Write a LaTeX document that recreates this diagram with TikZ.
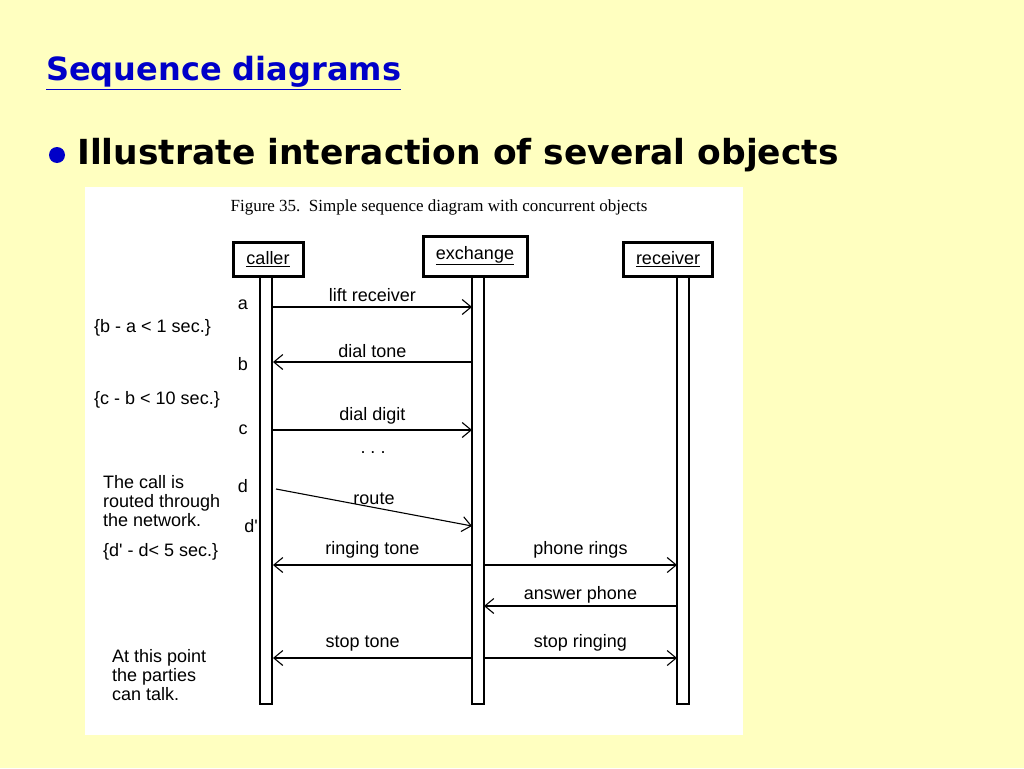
\documentclass[tikz,border=0pt]{standalone}
\usepackage{fontspec}
\setmainfont{Liberation Sans}
\newfontfamily\figfont{Liberation Serif}
\newfontfamily\slidefont{DejaVu Sans}
\usetikzlibrary{arrows.meta, positioning, calc}
\definecolor{SlideYellow}{RGB}{255, 255, 192}
\definecolor{SlideBlue}{RGB}{0, 0, 200}
\newcommand{\sq}{\textquotesingle}
\tikzset{
  objbox/.style={draw, line width=3pt, fill=white, minimum height=34pt, inner sep=2pt, font=\fontsize{18}{20}\selectfont},
  lifeline/.style={draw, line width=1.4pt, fill=white},
  msg/.style={line width=1.1pt, -{Straight Barb[length=9pt, width=15pt]}},
  lbl/.style={font=\fontsize{18}{20}\selectfont, inner sep=1pt},
  note/.style={font=\fontsize{18}{20}\selectfont, align=left, anchor=north west, inner sep=0pt}
}
\begin{document}
\begin{tikzpicture}[x=1pt, y=-1pt]
  \fill[SlideYellow] (0,0) rectangle (1024,768);
  \useasboundingbox (0,0) rectangle (1024,768);
  % slide heading
  \node[anchor=west, text=SlideBlue, font=\slidefont\bfseries\fontsize{32}{36}\selectfont, inner sep=0pt] (title) at (46,73) {\underline{Sequence diagrams}};
  \fill[SlideBlue] (57,155) circle (8);
  \node[anchor=west, font=\slidefont\bfseries\fontsize{34.5}{38}\selectfont, inner sep=0pt] (point) at (77,155) {Illustrate interaction of several objects};
  % figure panel
  \fill[white] (85,187) rectangle (743,735);
  \node[font=\figfont\fontsize{17}{19}\selectfont] (cap) at (439,207) {Figure 35.\ \ Simple sequence diagram with concurrent objects};
  % objects and lifelines
  \node[objbox, minimum width=70pt] (caller) at (268,259) {\underline{caller}};
  \node[objbox, minimum width=104pt, minimum height=40pt] (exch) at (475,256) {\raisebox{6pt}{\underline{exchange}}};
  \node[objbox, minimum width=89pt] (recv) at (668,259) {\underline{receiver}};
  \draw[lifeline] (260,277) rectangle (272,704);
  \draw[lifeline] (472,277) rectangle (484,704);
  \draw[lifeline] (677,277) rectangle (689,704);
  % message ends
  \foreach \n/\y in {a/307, b/362, c/430, d/489, dd/526, e/565, f/606, g/658} {
    \coordinate (cl\n) at (273,\y);
    \coordinate (xl\n) at (472,\y);
    \coordinate (xr\n) at (484,\y);
    \coordinate (rc\n) at (677,\y);
  }
  \draw[msg] (cla) -- (xla) node[lbl, midway, above=4pt] {lift receiver};
  \draw[msg] (xlb) -- (clb) node[lbl, midway, above=3pt] {dial tone};
  \draw[msg] (clc) -- (xlc) node[lbl, midway, above=4pt] {dial digit};
  \node[lbl] (dots) at (373,453) {.\ .\ .};
  \draw[msg] ([xshift=3pt]cld) -- (xldd) node[lbl, pos=0.5, above=1pt] {route};
  \draw[msg] (xle) -- (cle) node[lbl, midway, above=5pt] {ringing tone};
  \draw[msg] (xre) -- (rce) node[lbl, midway, above=5pt] {phone rings};
  \draw[msg] (rcf) -- (xrf) node[lbl, midway, above=1pt] {answer phone};
  \draw[msg] (xlg) -- (clg) node[lbl, pos=0.55, above=5pt] {stop tone};
  \draw[msg] (xrg) -- (rcg) node[lbl, midway, above=5pt] {stop ringing};
  % time marks and notes
  \node[lbl] (ta) at (243,305) {a};
  \node[lbl] (tb) at (243,364) {b};
  \node[lbl] (tc) at (243,430) {c};
  \node[lbl] (td) at (243,486) {d};
  \node[lbl] (tdd) at (251,526) {d\sq};
  \node[note] (ba) at (94,319) {\{b - a < 1 sec.\}};
  \node[note] (cb) at (94,391) {\{c - b < 10 sec.\}};
  \node[note, font=\fontsize{18}{19}\selectfont] (route) at (103,475) {The call is\\routed through\\the network.};
  \node[note] (ddd) at (103,543) {\{d\sq\ - d< 5 sec.\}};
  \node[note, font=\fontsize{18}{19}\selectfont] (talk) at (112,649) {At this point\\the parties\\can talk.};
\end{tikzpicture}
\end{document}
